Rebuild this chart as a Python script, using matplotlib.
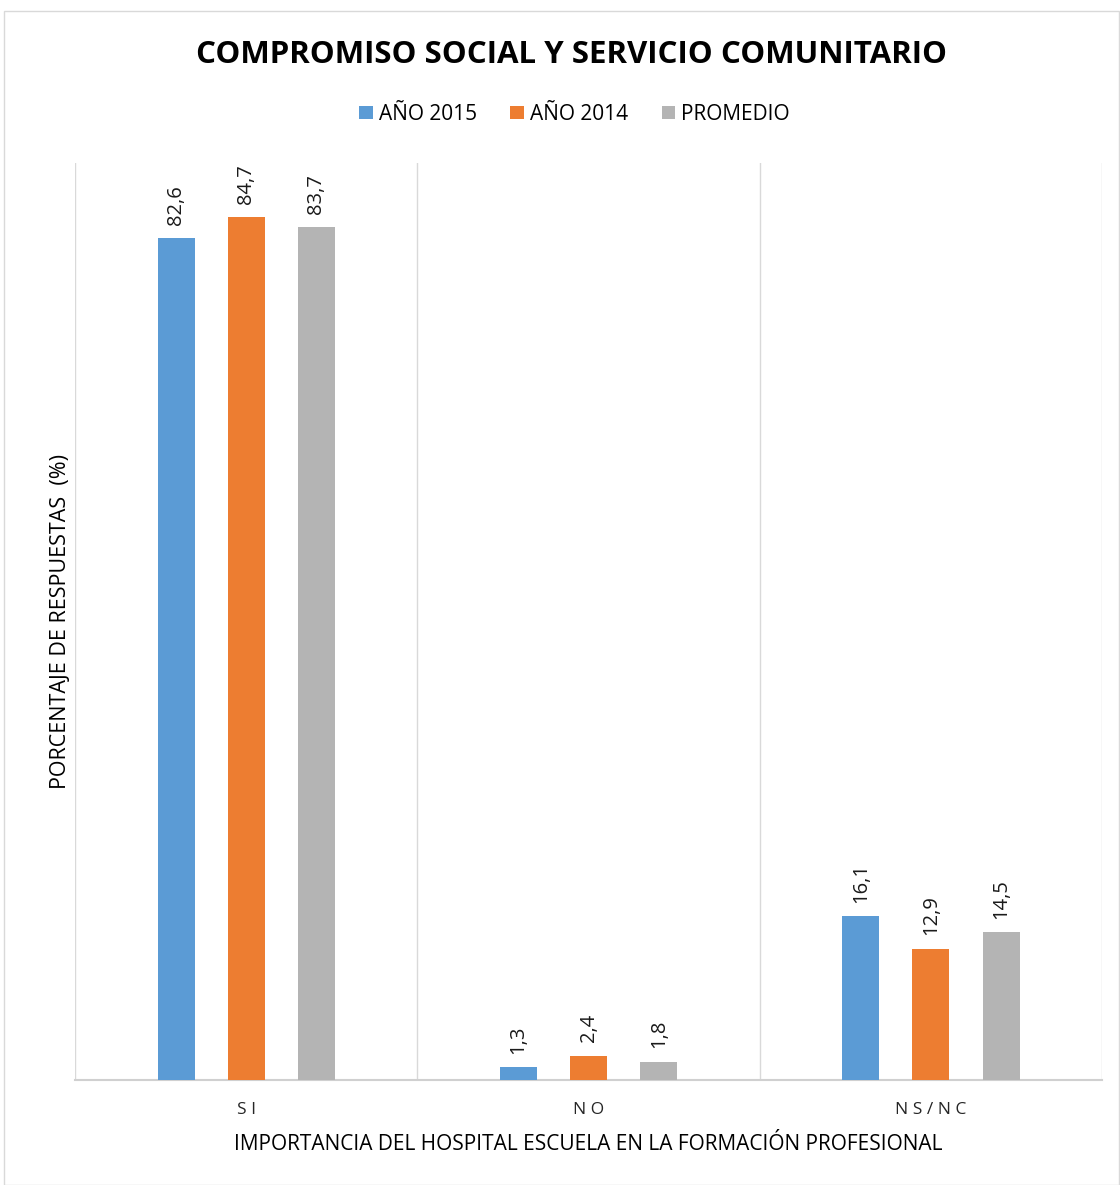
import matplotlib
matplotlib.use("Agg")
import matplotlib.pyplot as plt
import numpy as np
from matplotlib.patches import Rectangle

categories = ["S I", "N O", "N S / N C"]
series_names = ["AÑO 2015", "AÑO 2014", "PROMEDIO"]
anio_2015 = [82.6, 1.3, 16.1]
anio_2014 = [84.7, 2.4, 12.9]
promedio = [83.7, 1.8, 14.5]
colors = ["#5b9bd5", "#ed7d31", "#b4b4b4"]

plt.rcParams['font.family'] = ['Open Sans', 'DejaVu Sans']

fig = plt.figure(figsize=(11.2, 11.85), dpi=100)
ax = fig.add_axes([0.067, 0.0886, 0.917, 0.7738])

x = np.arange(len(categories))
bw = 0.108
offs = [-0.205, 0.0, 0.205]
for vals, name, c, o in zip([anio_2015, anio_2014, promedio], series_names, colors, offs):
    bars = ax.bar(x + o, vals, bw, color=c, label=name, zorder=3)
    for b, v in zip(bars, vals):
        ax.text(b.get_x() + b.get_width() / 2, v + 1.3, f"{v:.1f}".replace(".", ","),
                rotation=90, ha="center", va="bottom", fontsize=14.5, color="#1a1a1a")

ax.set_xlim(-0.5, 2.5)
ax.set_ylim(0, 90)
ax.set_yticks([])
ax.set_xticks(x)
ax.set_xticklabels(categories, fontsize=12.5, color="#262626")
ax.tick_params(axis="x", length=0, pad=16)
for b in [-0.5, 0.5, 1.5, 2.5]:
    ax.axvline(b, color="#d9d9d9", lw=1, zorder=1)
for s in ["top", "left", "right"]:
    ax.spines[s].set_visible(False)
ax.spines["bottom"].set_color("#d0d0d0")
ax.spines["bottom"].set_linewidth(1.5)

ax.set_xlabel("IMPORTANCIA DEL HOSPITAL ESCUELA EN LA FORMACIÓN PROFESIONAL", fontsize=15, color="#000000", labelpad=11)
ax.set_ylabel("PORCENTAJE DE RESPUESTAS  (%)", fontsize=15.5, color="#000000", labelpad=3)

fig.text(0.51, 0.9535, "COMPROMISO SOCIAL Y SERVICIO COMUNITARIO", ha="center", va="center",
         fontsize=22.5, fontweight="bold", color="#000000")
fig.legend(loc="center", bbox_to_anchor=(0.513, 0.9035), ncol=3, frameon=False, fontsize=15,
           handlelength=0.65, handleheight=0.65, handletextpad=0.3, columnspacing=1.6)

fig.patches.append(Rectangle((0.004, 0.0), 0.995, 0.991, transform=fig.transFigure,
                             fill=False, edgecolor="#d9d9d9", lw=1))
fig.savefig("out.png", dpi=100)
